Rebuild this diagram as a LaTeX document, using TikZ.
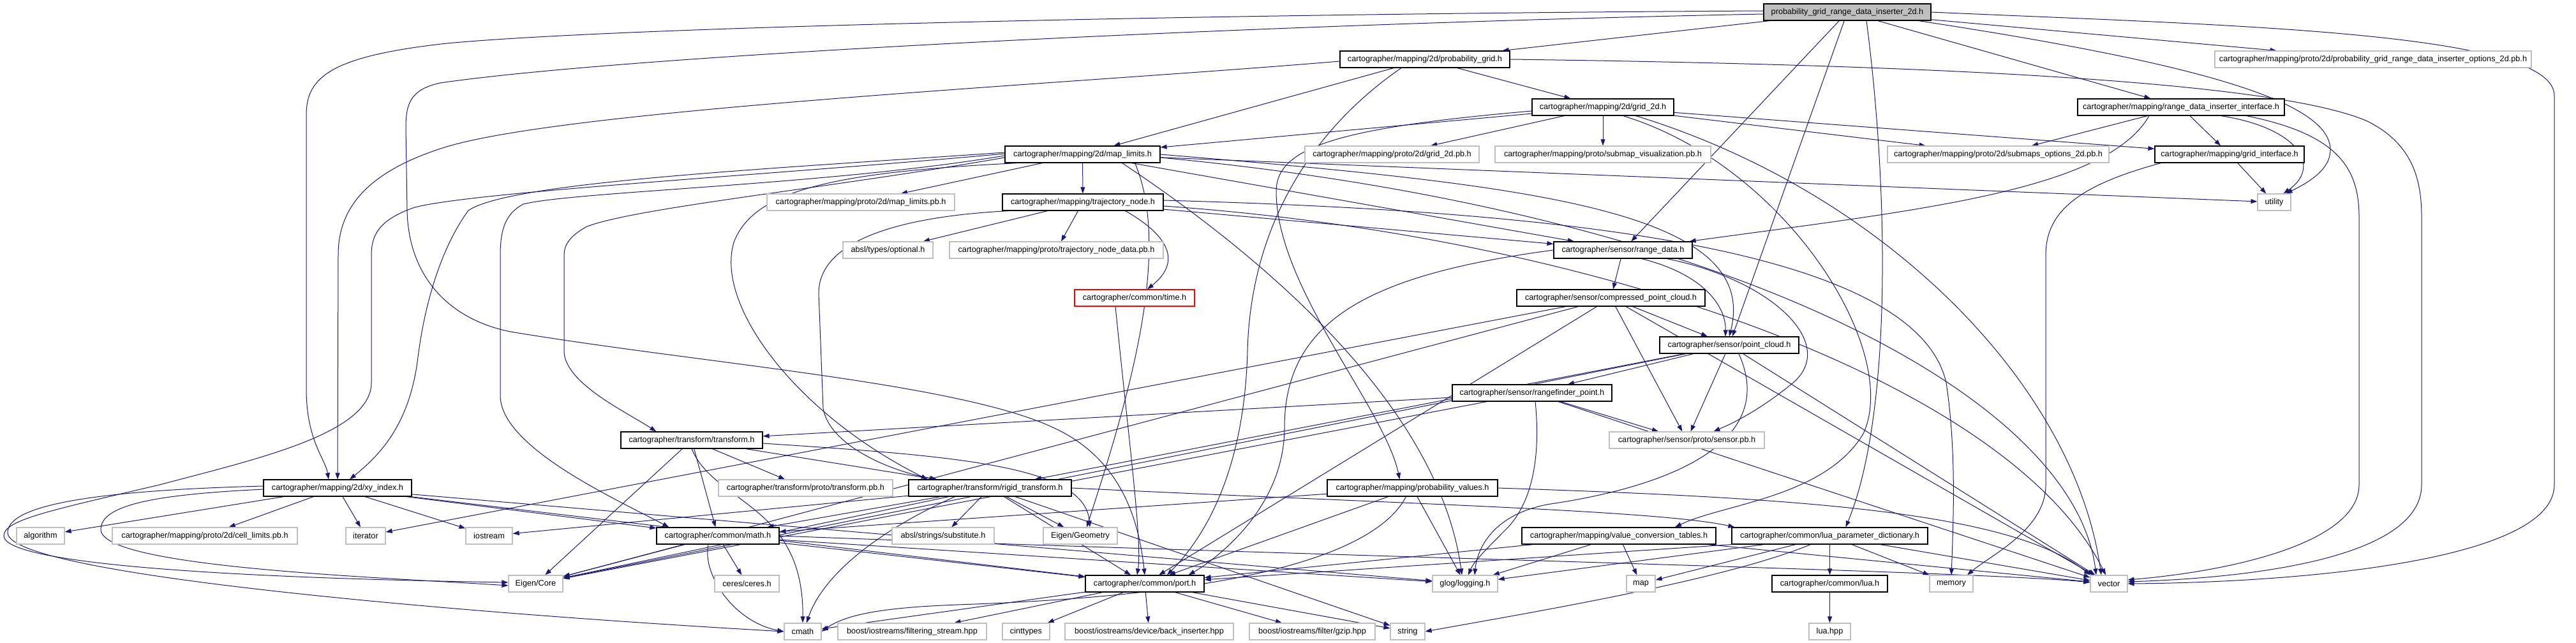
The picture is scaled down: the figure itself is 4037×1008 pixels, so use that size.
\documentclass[tikz,border=0pt]{standalone}
\usepackage{fontspec}
\setmainfont{Liberation Sans}
\usetikzlibrary{arrows.meta,calc,backgrounds}
\definecolor{edgec}{HTML}{191970}
\definecolor{extc}{HTML}{BFBFBF}
\definecolor{rootc}{HTML}{BFBFBF}
\begin{document}
\begin{tikzpicture}[x=1pt,y=1pt,
  nb/.style={draw=black,fill=white,line width=1.2pt,minimum height=26pt,inner sep=0pt,font=\fontsize{12.7}{15}\selectfont},
  nx/.style={nb,draw=extc},
  nred/.style={nb,draw=red},
  nroot/.style={nb,fill=rootc},
  edg/.style={draw=edgec,line width=1pt,-{Triangle[length=10pt,width=7pt]}}]
\useasboundingbox (0,0) rectangle (4037,-1008);
% nodes
\node[nroot,minimum width=262pt] (root) at (2895,-19) {probability\_grid\_range\_data\_inserter\_2d.h};
\node[nb,minimum width=266pt] (pg) at (2233,-93) {cartographer/mapping/2d/probability\_grid.h};
\node[nx,minimum width=496pt] (opt2d) at (3719,-93) {cartographer/mapping/proto/2d/probability\_grid\_range\_data\_inserter\_options\_2d.pb.h};
\node[nb,minimum width=222pt] (g2) at (2512,-168) {cartographer/mapping/2d/grid\_2d.h};
\node[nb,minimum width=324pt] (rdii) at (3418,-168) {cartographer/mapping/range\_data\_inserter\_interface.h};
\node[nb,minimum width=243pt] (ml) at (1696.5,-242) {cartographer/mapping/2d/map\_limits.h};
\node[nx,minimum width=273pt] (g2pb) at (2181.5,-242) {cartographer/mapping/proto/2d/grid\_2d.pb.h};
\node[nx,minimum width=338pt] (smv) at (2512,-242) {cartographer/mapping/proto/submap\_visualization.pb.h};
\node[nx,minimum width=347pt] (smo) at (3131.5,-242) {cartographer/mapping/proto/2d/submaps\_options\_2d.pb.h};
\node[nb,minimum width=234pt] (gi) at (3494,-242) {cartographer/mapping/grid\_interface.h};
\node[nx,minimum width=294pt] (mlpb) at (1349,-317) {cartographer/mapping/proto/2d/map\_limits.pb.h};
\node[nb,minimum width=252pt] (tn) at (1697,-317) {cartographer/mapping/trajectory\_node.h};
\node[nx,minimum width=52pt] (util) at (3564,-317) {utility};
\node[nx,minimum width=141pt] (opt) at (1391.5,-392) {absl/types/optional.h};
\node[nx,minimum width=335pt] (tnpb) at (1655.5,-392) {cartographer/mapping/proto/trajectory\_node\_data.pb.h};
\node[nb,minimum width=217pt] (rd) at (2543.5,-392) {cartographer/sensor/range\_data.h};
\node[nred,minimum width=188pt] (time) at (1778,-467) {cartographer/common/time.h};
\node[nb,minimum width=295pt] (cpc) at (2524.5,-467) {cartographer/sensor/compressed\_point\_cloud.h};
\node[nb,minimum width=218pt] (pc) at (2710,-541) {cartographer/sensor/point\_cloud.h};
\node[nb,minimum width=250pt] (rp) at (2401,-616) {cartographer/sensor/rangefinder\_point.h};
\node[nb,minimum width=222pt] (tf) at (1084,-690) {cartographer/transform/transform.h};
\node[nx,minimum width=243pt] (spb) at (2643.5,-690) {cartographer/sensor/proto/sensor.pb.h};
\node[nb,minimum width=232pt] (xy) at (529,-765) {cartographer/mapping/2d/xy\_index.h};
\node[nx,minimum width=273pt] (tfpb) at (1262.5,-765) {cartographer/transform/proto/transform.pb.h};
\node[nb,minimum width=255pt] (rt) at (1551.5,-765) {cartographer/transform/rigid\_transform.h};
\node[nb,minimum width=267pt] (pv) at (2213.5,-765) {cartographer/mapping/probability\_values.h};
\node[nx,minimum width=75pt] (alg) at (63.5,-840) {algorithm};
\node[nx,minimum width=290pt] (clpb) at (321,-840) {cartographer/mapping/proto/2d/cell\_limits.pb.h};
\node[nx,minimum width=62pt] (iter) at (573,-840) {iterator};
\node[nx,minimum width=73pt] (iost) at (766.5,-840) {iostream};
\node[nb,minimum width=192pt] (math) at (1125,-840) {cartographer/common/math.h};
\node[nx,minimum width=160pt] (subst) at (1478,-840) {absl/strings/substitute.h};
\node[nx,minimum width=116pt] (egeo) at (1693,-840) {Eigen/Geometry};
\node[nb,minimum width=304pt] (vct) at (2537,-840) {cartographer/mapping/value\_conversion\_tables.h};
\node[nb,minimum width=307pt] (lpd) at (2867.5,-840) {cartographer/common/lua\_parameter\_dictionary.h};
\node[nx,minimum width=85pt] (ecore) at (839.5,-915) {Eigen/Core};
\node[nx,minimum width=101pt] (ceres) at (1170.5,-915) {ceres/ceres.h};
\node[nb,minimum width=186pt] (port) at (1794,-915) {cartographer/common/port.h};
\node[nx,minimum width=102pt] (glog) at (2296,-915) {glog/logging.h};
\node[nx,minimum width=45pt] (map) at (2571.5,-915) {map};
\node[nb,minimum width=181pt] (lua) at (2867.5,-915) {cartographer/common/lua.h};
\node[nx,minimum width=68pt] (mem) at (3058,-915) {memory};
\node[nx,minimum width=58pt] (vec) at (3305,-915) {vector};
\node[nx,minimum width=58pt] (cmath) at (1258,-990) {cmath};
\node[nx,minimum width=233pt] (bfs) at (1429.5,-990) {boost/iostreams/filtering\_stream.hpp};
\node[nx,minimum width=74pt] (cint) at (1608,-990) {cinttypes};
\node[nx,minimum width=264pt] (bbi) at (1801,-990) {boost/iostreams/device/back\_inserter.hpp};
\node[nx,minimum width=197pt] (gzip) at (2056.5,-990) {boost/iostreams/filter/gzip.hpp};
\node[nx,minimum width=54pt] (str) at (2206,-990) {string};
\node[nx,minimum width=65pt] (luahpp) at (2867.5,-990) {lua.hpp};
\begin{pgfonlayer}{background}
\fill[white] (0,0) rectangle (4037,-1008);
% root
\draw[edg] (root) -- (pg);
\draw[edg] (root) -- (opt2d);
\draw[edg] (root) -- (rdii);
\draw[edg] (root) -- (rd);
\draw[edg] (root) -- (pc);
\draw[edg] ($(root.south)+(30,0)$) .. controls (2960,-300) and (2965,-650) .. ($(lpd.north)+(25,0)$);
\draw[edg] ($(root.south east)+(-20,0)$) .. controls (3450,-100) and (3652,-160) .. (3652,-235) .. controls (3652,-265) and (3620,-285) .. ($(util.north east)+(-8,0)$);
\draw[edg] (root.east) .. controls (3500,-40) and (4003,-50) .. (4003,-150) -- (4003,-760) .. controls (4003,-880) and (3600,-913) .. (vec.east);
\draw[edg] ($(root.west)+(0,2)$) .. controls (2000,-21) and (1000,-40) .. (700,-68) .. controls (520,-88) and (480,-120) .. (480,-180) -- (480,-610) .. controls (480,-690) and (510,-720) .. ($(xy.north)+(-14,0)$);
\draw[edg] ($(root.west)+(0,-3)$) .. controls (2000,-37) and (1000,-85) .. (690,-130) .. controls (645,-140) and (636,-160) .. (636,-200) -- (638,-330) .. controls (640,-430) and (700,-500) .. (800,-520) .. controls (1100,-570) and (1500,-600) .. (1650,-670) .. controls (1760,-720) and (1785,-820) .. (port.north);
% pg
\draw[edg] (pg) -- (g2);
\draw[edg] (pg) -- (ml);
\draw[edg] ($(pg.west)+(0,-3)$) .. controls (1700,-130) and (900,-170) .. (700,-230) .. controls (570,-270) and (530,-330) .. (530,-400) -- (xy.north);
\draw[edg] ($(pg.south)+(-37,0)$) .. controls (2060,-200) and (1960,-350) .. (1955,-550) .. controls (1950,-750) and (1880,-850) .. ($(port.north)+(35,0)$);
\draw[edg] (pg.east) .. controls (2900,-100) and (3550,-120) .. (3710,-190) .. controls (3780,-225) and (3795,-280) .. (3795,-340) -- (3795,-760) .. controls (3795,-870) and (3550,-905) .. ($(vec.east)+(0,3)$);
% g2
\draw[edg] (g2) -- (ml);
\draw[edg] ($(g2.west)+(0,-6)$) .. controls (2100,-200) and (2000,-230) .. (2000,-300) .. controls (2000,-450) and (2170,-640) .. ($(pv.north)+(-20,0)$);
\draw[edg] (g2) -- (g2pb);
\draw[edg] (g2) -- (smv);
\draw[edg] (g2) -- (smo);
\draw[edg] (g2) -- (gi);
\draw[edg] ($(g2.south east)+(-80,0)$) .. controls (2800,-260) and (2980,-550) .. (2920,-680) .. controls (2860,-780) and (2700,-790) .. ($(vct.north)+(88,0)$);
\draw[edg] ($(g2.south east)+(-60,0)$) .. controls (2950,-300) and (3250,-600) .. ($(vec.north)+(-12,0)$);
% rdii
\draw[edg] (rdii) -- (smo);
\draw[edg] (rdii) -- (gi);
\draw[edg] ($(rdii.south)+(-50,0)$) .. controls (3300,-300) and (3000,-330) .. ($(rd.north east)+(-5,0)$);
\draw[edg] ($(rdii.south east)+(-100,0)$) .. controls (3600,-200) and (3640,-260) .. ($(util.north east)+(-12,0)$);
\draw[edg] ($(rdii.south east)+(-60,0)$) .. controls (3660,-210) and (3697,-260) .. (3697,-340) -- (3697,-760) .. controls (3697,-850) and (3500,-895) .. ($(vec.east)+(0,6)$);
% gi
\draw[edg] (gi) -- (util);
\draw[edg] ($(gi.south west)+(10,0)$) .. controls (3260,-290) and (3206,-330) .. (3206,-400) -- (3206,-760) .. controls (3206,-830) and (3120,-870) .. ($(mem.north)+(25,0)$);
% ml
\draw[edg] (ml) -- (mlpb);
\draw[edg] (ml) -- (tn);
\draw[edg] (ml) -- (util);
\draw[edg] (ml) -- (rd);
\draw[edg] (ml.east) .. controls (2400,-290) and (2760,-330) .. (pc.north);
\draw[edg] ($(ml.east)+(0,-5)$) .. controls (2700,-330) and (3250,-620) .. ($(vec.north)+(-20,0)$);
\draw[edg] ($(ml.west)+(0,3)$) .. controls (1200,-265) and (800,-285) .. (734,-330) .. controls (690,-390) and (665,-480) .. (655,-560) .. controls (643,-660) and (600,-710) .. ($(xy.north)+(19,0)$);
\draw[edg] ($(ml.west)+(0,1)$) .. controls (1200,-275) and (750,-300) .. (650,-325) .. controls (592,-345) and (582,-370) .. (582,-400) -- (582,-600) .. controls (582,-680) and (400,-720) .. (250,-760) .. controls (80,-800) and (6,-815) .. (6,-840) .. controls (6,-880) and (300,-905) .. ($(ecore.west)+(0,2)$);
\draw[edg] ($(ml.west)+(0,-2)$) .. controls (1300,-290) and (900,-300) .. (820,-320) .. controls (792,-335) and (784,-360) .. (784,-400) -- (784,-620) .. controls (784,-700) and (960,-780) .. ($(math.north west)+(20,0)$);
\draw[edg] ($(ml.west)+(0,-5)$) .. controls (1300,-295) and (1000,-325) .. (920,-355) .. controls (892,-370) and (884,-385) .. (884,-400) -- (884,-550) .. controls (884,-600) and (980,-645) .. ($(tf.north west)+(56,0)$);
\draw[edg] ($(ml.south west)+(20,0)$) .. controls (1300,-270) and (1180,-300) .. (1150,-380) .. controls (1120,-480) and (1250,-650) .. ($(rt.north west)+(30,0)$);
\draw[edg] ($(ml.south east)+(-40,0)$) .. controls (1840,-400) and (1760,-650) .. ($(egeo.north)+(10,0)$);
\draw[edg] ($(ml.south east)+(-60,0)$) .. controls (1900,-350) and (2250,-600) .. ($(glog.north)+(-5,0)$);
% tn
\draw[edg] (tn) -- (opt);
\draw[edg] (tn) -- (tnpb);
\draw[edg] ($(tn.south east)+(-60,0)$) .. controls (1850,-380) and (1840,-420) .. ($(time.north)+(20,0)$);
\draw[edg] (tn) -- (rd);
\draw[edg] ($(tn.south west)+(10,0)$) .. controls (1400,-340) and (1283,-380) .. (1283,-460) -- (1290,-640) .. controls (1300,-700) and (1400,-740) .. ($(rt.north west)+(45,0)$);
\draw[edg] ($(tn.east)+(0,3)$) .. controls (2400,-330) and (3000,-380) .. (3050,-600) .. controls (3065,-700) and (3062,-800) .. (mem.north);
\draw[edg] ($(tn.east)+(0,-6)$) .. controls (2500,-370) and (3150,-600) .. ($(vec.north)+(-5,0)$);
% time
\draw[edg] ($(time.south)+(-30,0)$) .. controls (1770,-700) and (1790,-850) .. ($(port.north)+(-12,0)$);
% rd
\draw[edg] (rd.west) .. controls (2150,-430) and (2013,-500) .. (2013,-670) .. controls (2013,-800) and (1900,-880) .. ($(port.north east)+(-25,0)$);
\draw[edg] (rd) -- (cpc);
\draw[edg] ($(rd.south east)+(-80,0)$) .. controls (2670,-430) and (2705,-480) .. ($(pc.north)+(-6,0)$);
\draw[edg] ($(rd.south east)+(-40,0)$) .. controls (2780,-440) and (2880,-540) .. (2810,-600) .. controls (2750,-650) and (2700,-670) .. ($(spb.north)+(42,0)$);
% cpc
\draw[edg] (cpc) -- (iter);
\draw[edg] (cpc) -- (ecore);
\draw[edg] (cpc) -- (port);
\draw[edg] (cpc) -- (spb);
\draw[edg] (cpc) -- (pc);
\draw[edg] (cpc) -- (vec);
% pc
\draw[edg] (pc) -- (ecore);
\draw[edg] (pc) -- (rp);
\draw[edg] (pc) -- (rt);
\draw[edg] (pc) -- (spb);
\draw[edg] ($(pc.south)+(15,0)$) .. controls (2790,-700) and (2600,-765) .. (2430,-790) .. controls (2340,-805) and (2315,-860) .. ($(glog.north)+(15,0)$);
\draw[edg] (pc) -- (vec);
% rp
\draw[edg] (rp) -- (tf);
\draw[edg] (rp) -- (ecore);
\draw[edg] ($(rp.south)+(5,0)$) .. controls (2415,-720) and (2400,-790) .. (2360,-830) .. controls (2330,-860) and (2310,-880) .. ($(glog.north)+(5,0)$);
\draw[edg] (rp) -- (spb);
\draw[edg] (rp) -- (vec);
% tf
\draw[edg] (tf) -- (tfpb);
\draw[edg] (tf) -- (rt);
\draw[edg] (tf) -- (math);
\draw[edg] (tf.south) .. controls (1120,-790) and (1260,-790) .. (cmath.north);
\draw[edg] ($(tf.east)+(0,-5)$) .. controls (1500,-715) and (1700,-730) .. ($(egeo.north)+(15,0)$);
\draw[edg] (tf) -- (ecore);
% xy
\draw[edg] (xy) -- (alg);
\draw[edg] (xy) -- (clpb);
\draw[edg] (xy) -- (iter);
\draw[edg] (xy) -- (iost);
\draw[edg] ($(xy.west)+(0,-2)$) .. controls (250,-775) and (158,-790) .. (158,-830) .. controls (158,-890) and (600,-905) .. ($(ecore.west)+(0,-3)$);
\draw[edg] ($(xy.west)+(0,3)$) .. controls (100,-770) and (12,-800) .. (12,-835) .. controls (12,-900) and (700,-960) .. (cmath.west);
\draw[edg] (xy) -- (math);
\draw[edg] (xy) -- (port);
\draw[edg] (xy) -- (glog);
% rt
\draw[edg] (rt) -- (str);
\draw[edg] ($(rt.south)+(-55,0)$) .. controls (1380,-830) and (1290,-900) .. ($(cmath.north)+(6,0)$);
\draw[edg] (rt) -- (iost);
\draw[edg] (rt) -- (ecore);
\draw[edg] (rt) -- (egeo);
\draw[edg] (rt) -- (subst);
\draw[edg] (rt.east) .. controls (2200,-790) and (2600,-800) .. ($(lpd.north west)+(5,0)$);
\draw[edg] (rt) -- (math);
\draw[edg] (rt) -- (port);
% pv
\draw[edg] ($(pv.south)+(-10,0)$) .. controls (2150,-880) and (1900,-935) .. (1500,-948) .. controls (1400,-952) and (1330,-960) .. (cmath.east);
\draw[edg] (pv.east) .. controls (2800,-780) and (3150,-800) .. (vec.north west);
\draw[edg] (pv) -- (math);
\draw[edg] (pv) -- (port);
\draw[edg] (pv) -- (glog);
% math
\draw[edg] (math) -- (ceres);
\draw[edg] ($(math.south)+(-15,0)$) .. controls (1100,-900) and (1150,-975) .. (cmath.west);
\draw[edg] (math) -- (port);
\draw[edg] (math.east) .. controls (2000,-870) and (3100,-895) .. ($(vec.west)+(0,2)$);
\draw[edg] (math) -- (ecore);
\draw[edg] (math) -- (glog);
% vct
\draw[edg] (vct) -- (glog);
\draw[edg] (vct) -- (map);
\draw[edg] (vct) -- (port);
\draw[edg] (vct) -- (vec);
% lpd
\draw[edg] (lpd) -- (map);
\draw[edg] (lpd) -- (mem);
\draw[edg] ($(lpd.south)+(-30,0)$) .. controls (2700,-910) and (2400,-960) .. (str.east);
\draw[edg] (lpd) -- (vec);
\draw[edg] (lpd) -- (lua);
\draw[edg] (lpd.south west) -- (port);
\draw[edg] (lpd) -- (glog);
% lua
\draw[edg] (lua) -- (luahpp);
% port
\draw[edg] (port) -- (cmath);
\draw[edg] (port) -- (bfs);
\draw[edg] (port) -- (cint);
\draw[edg] (port) -- (bbi);
\draw[edg] (port) -- (gzip);
\draw[edg] (port) -- (str);
\end{pgfonlayer}
\end{tikzpicture}
\end{document}
